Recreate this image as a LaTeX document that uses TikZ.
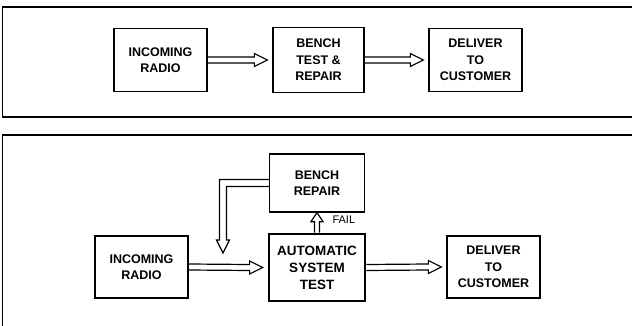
\documentclass[tikz,border=0pt]{standalone}
\usepackage{fontspec}
\setmainfont{Liberation Sans}
\usetikzlibrary{calc}

\begin{document}
\begin{tikzpicture}[
    x=1pt, y=-1pt,
    panel/.style={line width=1.8pt, line cap=rect},
    stagebox/.style={draw, line width=1.3pt, align=center, inner sep=0pt,
        minimum width=93pt, minimum height=63pt,
        font=\bfseries\fontsize{12.5}{16.5}\selectfont},
    testbox/.style={stagebox, line width=2.8pt, minimum width=96pt, minimum height=67pt,
        font=\bfseries\fontsize{13.5}{17}\selectfont},
    tag/.style={font=\fontsize{11}{12}\selectfont},
    pipeline/.style={line width=1.2pt, line join=miter},
    pipe/.style={to path={
        ($(\tikztostart)+(0,-3)$) -- ($(\tikztotarget)+(-18,-3)$) -- ++(0,-3.5)
        -- ($(\tikztotarget)+(-5,0)$) -- ($(\tikztotarget)+(-18,6.5)$) -- ++(0,-3.5)
        -- ($(\tikztostart)+(0,3)$)}}
]
    \clip (0,0) rectangle (632,326);

    % panel frames, open at the right
    \draw[panel] (640,7) -- (2.5,7) -- (2.5,117) -- (640,117);
    \draw[panel] (640,135) -- (2.5,135) -- (2.5,340);

    % old flow
    \node[stagebox] (inc1) at (160.5,60) {INCOMING\\RADIO};
    \node[stagebox, minimum width=91pt, minimum height=65pt] (bench1) at (318.5,60) {BENCH\\TEST \&\\REPAIR};
    \node[stagebox] (del1) at (475.5,60) {DELIVER\\TO\\CUSTOMER};
    \draw[pipeline] (inc1.east) to[pipe] (bench1.west);
    \draw[pipeline] (bench1.east) to[pipe] (del1.west);

    % new flow
    \node[stagebox, minimum height=62pt] (inc2) at (141.5,267) {INCOMING\\RADIO};
    \node[testbox] (ast) at (317,267.5) {AUTOMATIC\\SYSTEM\\TEST};
    \node[stagebox, minimum height=62pt] (del2) at (493.5,267) {DELIVER\\TO\\CUSTOMER};
    \node[stagebox, minimum width=95pt, minimum height=58pt] (bench2) at (317,183) {BENCH\\REPAIR};
    \draw[pipeline] (inc2.east) to[pipe] (ast.west);
    \draw[pipeline] (ast.east) to[pipe] node[tag, above=7pt, pos=0.35] (pass) {PASS} (del2.west);

    % fail branch
    \draw[pipeline] ($(ast.north)+(-2.5,0)$) -- ($(bench2.south)+(-2.5,9)$) -- ++(-3.5,0)
        -- (bench2.south) -- ++(6,9) -- ++(-3.5,0) -- ($(ast.north)+(2.5,0)$);
    \node[tag, anchor=west] (fail) at (329,220) {FAIL};

    % return from bench repair
    \coordinate (fbtip) at (223,253);
    \draw[pipeline] ($(bench2.west)+(0,-3.5)$) -- ($(bench2.west -| fbtip)+(-3.5,-3.5)$)
        -- ($(fbtip)+(-3.5,-13)$) -- ++(-3,0) -- (fbtip) -- ++(6.5,-13) -- ++(-3,0)
        -- ($(bench2.west -| fbtip)+(3.5,3.5)$) -- ($(bench2.west)+(0,3.5)$);
\end{tikzpicture}
\end{document}
